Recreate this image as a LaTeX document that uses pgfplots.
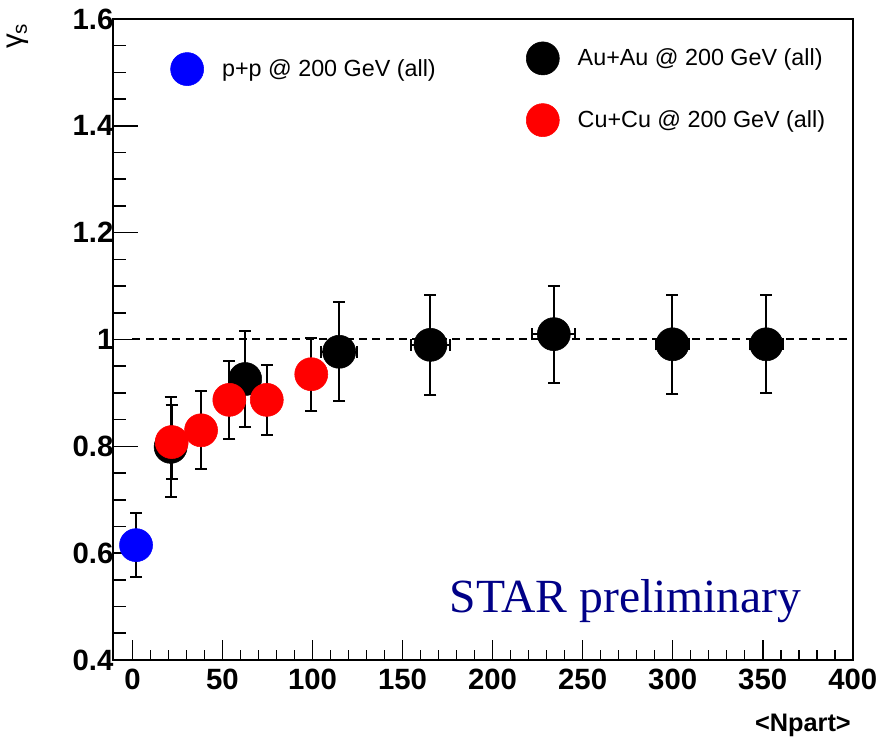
\documentclass[border=0pt]{standalone}
\usepackage{pgfplots}
\pgfplotsset{compat=1.18}
\usepackage{pgfplotstable}
\usepackage{fontspec}
\setmainfont{Liberation Sans}
\newfontfamily\serif{Liberation Serif}
\definecolor{starblue}{RGB}{0,0,135}

% gamma_s vs <Npart>
\pgfplotstableread{
x     y     ex   ey
2.0   0.615 2.5  0.060
}\pp
\pgfplotstableread{
x     y     ex   ey
21.2  0.799 6    0.093
62.6  0.926 7    0.090
114.8 0.977 10   0.093
165.5 0.990 11   0.093
234.0 1.010 12   0.091
299.9 0.991 9    0.093
352.0 0.991 9    0.092
}\auau
\pgfplotstableread{
x     y     ey
21.8  0.808 0.070
38.1  0.830 0.073
53.8  0.887 0.073
74.6  0.887 0.065
99.3  0.935 0.068
}\cucu

\pgfplotsset{
  panel/.style={width=554.8pt, height=480.75pt, scale only axis,
    xmin=-10.8, xmax=400, ymin=0.4, ymax=1.6},
  dot/.style={only marks, mark=*, mark size=12.4pt,
    mark options={draw=#1, fill=#1}},
  % error bars alone (drawn underneath the markers)
  bars/.style={forget plot, draw=none, mark=none,
    /pgfplots/error bars/y dir=both,
    /pgfplots/error bars/y explicit,
    /pgfplots/error bars/error bar style={draw=black, line width=1.5pt},
    /pgfplots/error bars/error mark options={draw=black, rotate=90,
      mark size=4.5pt, line width=1.5pt}},
  xybars/.style={bars,
    /pgfplots/error bars/x dir=both,
    /pgfplots/error bars/x explicit},
  legend image code/.code={
    \path[draw=none, fill=none] (-12.4pt,-23.15pt) rectangle (24.2pt,23.15pt);
    \draw[#1] plot coordinates {(0pt,0pt)};},
}

\begin{document}
\begin{tikzpicture}
\begin{axis}[panel,
  axis line style={line width=1.5pt},
  tick style={line width=1.2pt, black},
  xtick={0,50,...,400},
  ytick={0.4,0.6,0.8,1,1.2,1.4,1.6},
  minor x tick num=4, minor y tick num=3,
  xtick pos=bottom, ytick pos=left,
  tick align=inside,
  xtick style={/pgfplots/major tick length=15pt, /pgfplots/minor tick length=7.5pt},
  ytick style={/pgfplots/major tick length=18.75pt, /pgfplots/minor tick length=9.75pt},
  /pgf/number format/assume math mode=true,
  /pgf/number format/fixed,
  ticklabel style={font=\fontsize{22}{22}\selectfont\bfseries},
  yticklabel style={xshift=3.8pt},
  xticklabel style={yshift=-3pt},
  xlabel={<Npart>},
  xlabel style={at={(rel axis cs:0.9977,-0.1119)}, anchor=base east,
    inner sep=0pt, font=\fontsize{19}{19}\selectfont\bfseries},
  legend cell align=left,
  legend style={draw=none, fill=none, inner sep=0pt, outer sep=0pt,
    at={(axis cs:21.2,1.564)}, anchor=north west,
    font=\fontsize{17.5}{21}\selectfont},
  clip=false,
]
\coordinate (bl) at (rel axis cs:0,0);
\coordinate (tr) at (rel axis cs:1,1);
% y axis title, reading upwards at the top left
\node[rotate=90, anchor=base east, inner sep=0pt,
  font=\fontsize{22}{22}\selectfont] at (rel axis cs:-0.122,0.994)
  {γ\textsubscript{s}};
% reference line at gamma_s = 1
\addplot[forget plot, line width=1.5pt, dash pattern=on 6pt off 4pt]
  coordinates {(0,1) (400,1)};
% Au+Au
\addplot[xybars] table[x=x, y=y, x error=ex, y error=ey] {\auau};
\addplot[forget plot, dot=black] table[x=x, y=y] {\auau};
% Cu+Cu
\addplot[bars] table[x=x, y=y, y error=ey] {\cucu};
\addplot[forget plot, dot=red] table[x=x, y=y] {\cucu};
% p+p
\addplot[xybars] table[x=x, y=y, x error=ex, y error=ey] {\pp};
\addplot[dot=blue] table[x=x, y=y] {\pp};
\addlegendentry{p+p @ 200 GeV (all)}
\node[font=\serif\fontsize{35.7}{36}\selectfont, text=starblue,
  anchor=base, inner sep=0pt] at (axis cs:273.9,0.4895) {STAR preliminary};
\end{axis}

\begin{axis}[panel, hide axis,
  legend cell align=left,
  legend style={draw=none, fill=none, inner sep=0pt, outer sep=0pt,
    at={(axis cs:218.7,1.584)}, anchor=north west,
    font=\fontsize{17.5}{21}\selectfont},
]
\addlegendimage{dot=black}
\addlegendentry{Au+Au @ 200 GeV (all)}
\addlegendimage{dot=red}
\addlegendentry{Cu+Cu @ 200 GeV (all)}
\end{axis}

\pgfresetboundingbox
\path ([shift={(-84.75pt,-63.75pt)}]bl) rectangle ([shift={(19.7pt,14.25pt)}]tr);
\end{tikzpicture}
\end{document}
